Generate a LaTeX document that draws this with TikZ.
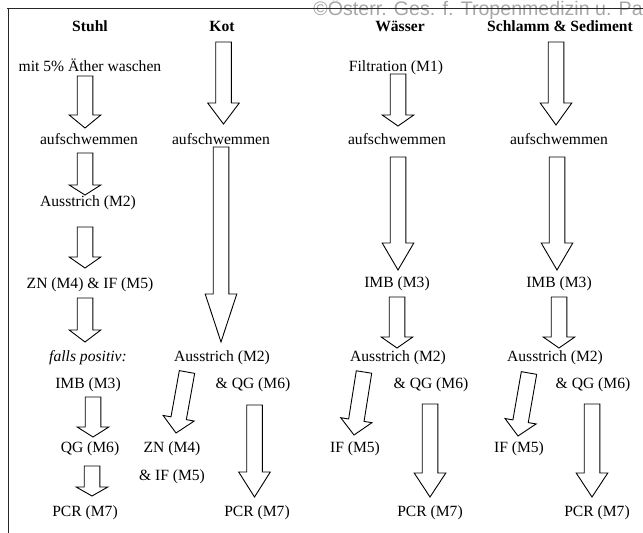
\documentclass[tikz,border=0pt]{standalone}
\usepackage{fontspec}
\setmainfont{Liberation Serif}
\newfontfamily\wmfont{Liberation Sans}
\usetikzlibrary{calc}
\tikzset{
  every picture/.style={x=1pt, y=-1pt, line width=0.9pt},
  lbl/.style={anchor=base, inner sep=0pt, font=\fontsize{15.6}{18}\selectfont},
  colhead/.style={lbl, font=\fontsize{15.6}{18}\selectfont\bfseries},
  blockarrow/.style={draw=black, fill=white, line join=miter},
  frame/.style={draw=black!85, line width=0.8pt},
  watermark/.style={anchor=base west, inner sep=0pt, text=black!35, font=\wmfont\fontsize{19.6}{22}\selectfont},
}
\newcommand{\shaftw}{7.8pt}
\newcommand{\headw}{15.8pt}
% block arrow from #2 to #3, head length #1
\newcommand{\flowarrow}[3][12]{%
  \coordinate (hb) at ($(#3)!#1pt!(#2)$);
  \draw[blockarrow] ($(#2)!\shaftw!90:(#3)$) -- ($(hb)!\shaftw!90:(#3)$)
    -- ($(hb)!\headw!90:(#3)$) -- (#3) -- ($(hb)!\headw!-90:(#3)$)
    -- ($(hb)!\shaftw!-90:(#3)$) -- ($(#2)!\shaftw!-90:(#3)$) -- cycle;}

\begin{document}
\begin{tikzpicture}
  \useasboundingbox (0,0) rectangle (643,533);
  \node[watermark] (wm) at (313,15) {©Österr. Ges. f. Tropenmedizin u. Pa};
  \draw[frame] (7,8) -- (643,8);
  \draw[frame] (8,8) -- (8,533);

  % column heads
  \node[colhead] (st0) at (90,31.5) {Stuhl};
  \node[colhead] (ko0) at (222,31.5) {Kot};
  \node[colhead] (wa0) at (400,31.5) {Wässer};
  \node[colhead] (sc0) at (560,31.5) {Schlamm \& Sediment};

  % Stuhl
  \node[lbl] (st1) at (90,71) {mit 5\% Äther waschen};
  \node[lbl] (st2) at (89,144) {aufschwemmen};
  \node[lbl] (st3) at (88,206) {Ausstrich (M2)};
  \node[lbl] (st4) at (90,288) {ZN (M4) \& IF (M5)};
  \node[lbl, font=\fontsize{15.6}{18}\selectfont\itshape] (st5) at (88,361) {falls positiv:};
  \node[lbl] (st6) at (88,388) {IMB (M3)};
  \node[lbl] (st7) at (90,452) {QG (M6)};
  \node[lbl] (st8) at (85,516) {PCR (M7)};

  % Kot
  \node[lbl] (ko1) at (221,144) {aufschwemmen};
  \node[lbl] (ko2) at (222,361) {Ausstrich (M2)};
  \node[lbl] (ko3) at (253,388) {\& QG (M6)};
  \node[lbl] (ko4) at (172,452) {ZN (M4)};
  \node[lbl] (ko5) at (172,480) {\& IF (M5)};
  \node[lbl] (ko6) at (257,516) {PCR (M7)};

  % Waesser
  \node[lbl] (wa1) at (396,71) {Filtration (M1)};
  \node[lbl] (wa2) at (397,144) {aufschwemmen};
  \node[lbl] (wa3) at (397,287) {IMB (M3)};
  \node[lbl] (wa4) at (398,361) {Ausstrich (M2)};
  \node[lbl] (wa5) at (431,388) {\& QG (M6)};
  \node[lbl] (wa6) at (355,452) {IF (M5)};
  \node[lbl] (wa7) at (430,516) {PCR (M7)};

  % Schlamm & Sediment
  \node[lbl] (sc1) at (559,144) {aufschwemmen};
  \node[lbl] (sc2) at (559,287) {IMB (M3)};
  \node[lbl] (sc3) at (555,361) {Ausstrich (M2)};
  \node[lbl] (sc4) at (593,388) {\& QG (M6)};
  \node[lbl] (sc5) at (519,452) {IF (M5)};
  \node[lbl] (sc6) at (597,516) {PCR (M7)};

  % arrows: tail x/y, tip x/y, head length
  \foreach \xa/\ya/\xb/\yb/\hl [count=\i] in {
      85/76/85/128/13, 85/153/85/195/10, 85/227/85/268/11, 85/298/85/342/12,
      93/397/93/437/10, 92/466/92/496/9,
      223.5/42/223.5/124/21, 221/147/221/342/48, 187/372/176/433/15, 254.5/405/254.5/497/25,
      398/74/398/126/11, 398/157/398/270/27, 397/297/397/348/11, 364/372/354/435/15, 430/404/430/497/24,
      556/42/556/125/22, 557/157/557/270/27, 559/297/559/348/11, 529/373/518/436/15, 592/404/592/497/24}{
    \coordinate (t\i) at (\xa,\ya);
    \coordinate (p\i) at (\xb,\yb);
    \flowarrow[\hl]{t\i}{p\i}
  }
\end{tikzpicture}
\end{document}
